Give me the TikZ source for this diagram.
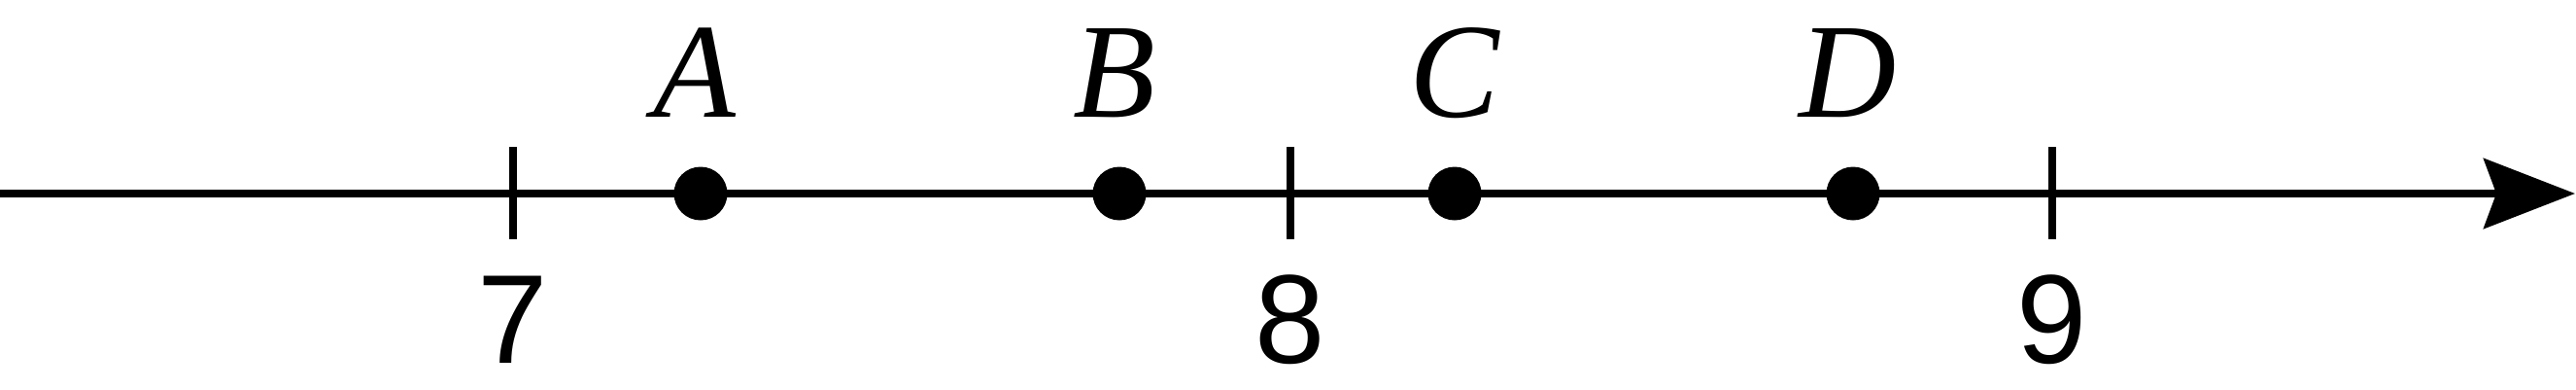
\documentclass[tikz,border=0pt]{standalone}
\usepackage{fontspec}
\setmainfont{Liberation Serif}
\newfontfamily\digitfont{Liberation Sans}
\usetikzlibrary{arrows.meta,positioning}
\begin{document}
\begin{tikzpicture}[
   dot/.style={circle,fill,minimum size=0.55cm,inner sep=0pt},
   letter/.style={font=\fontsize{39.5}{40}\selectfont\itshape,inner sep=0pt,anchor=base},
   digit/.style={font=\digitfont\fontsize{37}{38}\selectfont,inner sep=0pt,anchor=base},
   tick/.style={line width=0.08cm}]
   \useasboundingbox (0,0) rectangle (26.51,4);
   % Axis
   \coordinate (start) at (0,2.01);
   \coordinate (end) at (26.50,2.01);
   \draw[line width=0.08cm,-{Stealth[length=0.94cm,width=0.72cm,inset=0.13cm]}] (start) -- (end);
   % Ticks
   \coordinate (t7) at (5.28,2.01);
   \coordinate (t8) at (13.28,2.01);
   \coordinate (t9) at (21.12,2.01);
   \draw[tick] ([yshift=0.48cm]t7) -- ([yshift=-0.47cm]t7);
   \draw[tick] ([yshift=0.48cm]t8) -- ([yshift=-0.47cm]t8);
   \draw[tick] ([yshift=0.48cm]t9) -- ([yshift=-0.47cm]t9);
   \node[digit] (n7) at (5.28,0.27) {7};
   \node[digit] (n8) at (13.28,0.27) {8};
   \node[digit] (n9) at (21.12,0.27) {9};
   % Points
   \node[dot] (A) at (7.21,2.01) {};
   \node[dot] (B) at (11.52,2.01) {};
   \node[dot] (C) at (14.97,2.01) {};
   \node[dot] (D) at (19.07,2.01) {};
   \node[letter] (lA) at (7.15,2.80) {A};
   \node[letter] (lB) at (11.47,2.80) {B};
   \node[letter] (lC) at (14.97,2.80) {C};
   \node[letter] (lD) at (19.02,2.80) {D};
\end{tikzpicture}
\end{document}
